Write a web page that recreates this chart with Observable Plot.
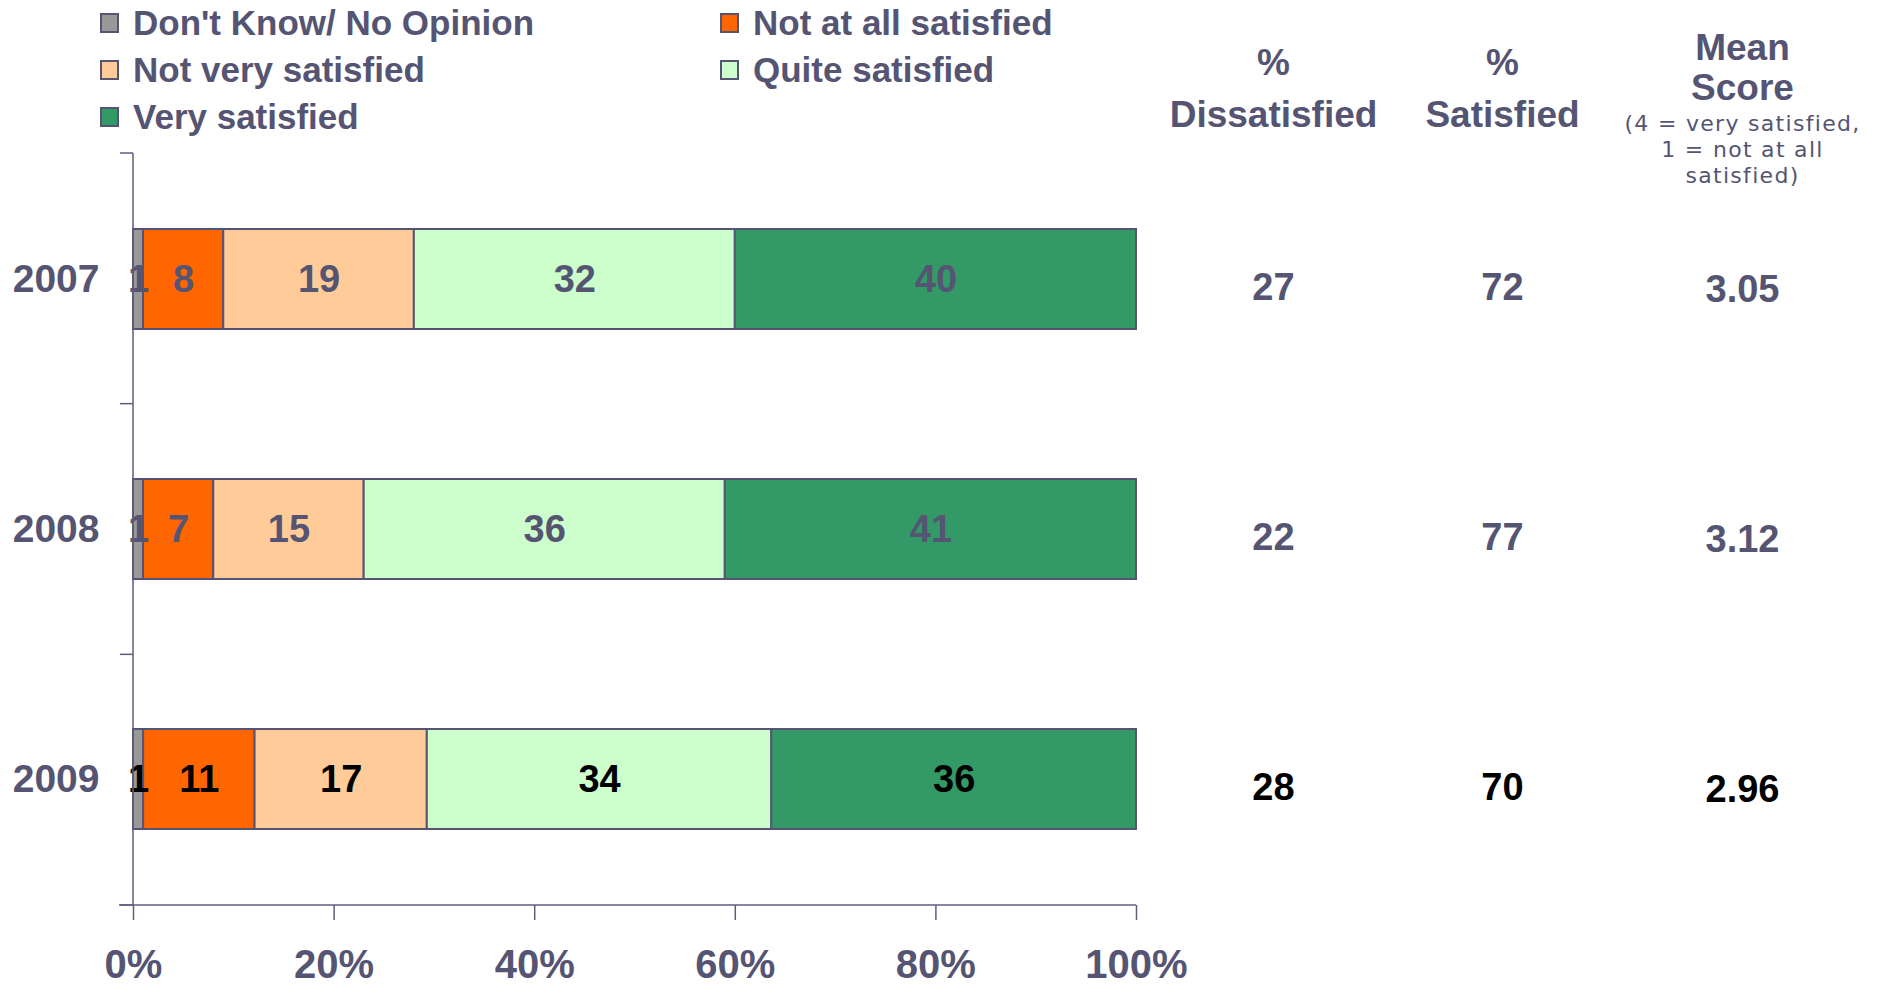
<!DOCTYPE html>
<html><head><meta charset="utf-8">
<script src="https://cdn.jsdelivr.net/npm/d3@7"></script>
<script src="https://cdn.jsdelivr.net/npm/@observablehq/plot@0.6"></script>
<style>
body{margin:0;background:#fff;font-family:"Liberation Sans",Arial,sans-serif;}
#wrap{position:relative;width:1892px;height:987px;}
#legend{position:absolute;left:100px;top:-1px;display:grid;grid-template-columns:620px auto;}
.item{display:flex;align-items:center;height:47px;font-size:35px;font-weight:bold;color:#555573;white-space:nowrap;}
.sw{width:15px;height:16px;border:2px solid #555573;margin-right:14px;}
.note text{letter-spacing:1.3px;}
</style></head>
<body><div id="wrap"><div id="legend"></div><div id="chart"></div></div>
<script>
const years = ["2007", "2008", "2009"];
const categories = ["Don't Know/ No Opinion", "Not at all satisfied", "Not very satisfied", "Quite satisfied", "Very satisfied"];
const colors = ["#999999", "#FF6600", "#FFCC99", "#CCFFCC", "#339966"];
const dontKnow = [1, 1, 1];
const notAtAll = [8, 7, 11];
const notVery = [19, 15, 17];
const quite = [32, 36, 34];
const very = [40, 41, 36];
const pctDissatisfied = [27, 22, 28];
const pctSatisfied = [72, 77, 70];
const meanScore = [3.05, 3.12, 2.96];
const xTicks = [0, 0.2, 0.4, 0.6, 0.8, 1];
const headerDissatisfied = ["%", "Dissatisfied"];
const headerSatisfied = ["%", "Satisfied"];
const headerMean = ["Mean", "Score"];
const headerMeanNote = ["(4 = very satisfied,\n1 = not at all\nsatisfied)"];

const TEXT = "#555573";
const series = [dontKnow, notAtAll, notVery, quite, very];
const data = [];
years.forEach((y, i) => categories.forEach((c, j) => data.push({year: y, category: c, value: series[j][i]})));
const side = years.map((y, i) => ({year: y, dis: pctDissatisfied[i], sat: pctSatisfied[i], mean: meanScore[i]}));
const labelFill = d => d.year === "2009" ? "black" : TEXT;

// legend
const lg = document.getElementById("legend");
categories.forEach((c, j) => {
  const it = document.createElement("div");
  it.className = "item";
  it.innerHTML = `<span class="sw" style="background:${colors[j]}"></span>${c}`;
  lg.appendChild(it);
});

const stackOpts = {x: "value", y: "year", z: "category", offset: "normalize", order: categories};

const axesMark = (index, scales, values, dims) => {
  const g = d3.create("svg:g").attr("stroke", "#5e5e7c").attr("stroke-width", 1.5);
  const x0 = scales.x(0);
  const top = dims.marginTop, bottom = dims.height - dims.marginBottom;
  const step = (bottom - top) / years.length;
  g.append("line").attr("x1", x0).attr("x2", x0).attr("y1", top).attr("y2", bottom);
  g.append("line").attr("x1", x0 - 14).attr("x2", scales.x(1)).attr("y1", bottom).attr("y2", bottom);
  for (let i = 0; i <= years.length; i++) {
    const yy = top + i * step;
    g.append("line").attr("x1", x0 - 13).attr("x2", x0).attr("y1", yy).attr("y2", yy);
  }
  return g.node();
};

const headerStyle = {fontSize: 37, fontWeight: "bold", fill: TEXT, frameAnchor: "top-right", lineAnchor: "middle", textAnchor: "middle"};

const chart = Plot.plot({
  width: 1892,
  height: 987,
  marginTop: 153,
  marginBottom: 82,
  marginLeft: 133,
  marginRight: 756,
  style: {fontFamily: '"Liberation Sans", Arial, sans-serif', background: "white", color: TEXT},
  x: {domain: [0, 1], label: null},
  y: {domain: years, paddingInner: 0.6, paddingOuter: 0.3, label: null},
  color: {domain: categories, range: colors},
  marks: [
    Plot.barX(data, Plot.stackX({...stackOpts, fill: "category", stroke: "#555573", strokeWidth: 2})),
    Plot.text(data, Plot.stackX({...stackOpts, text: "value", fill: labelFill, fontSize: 38, fontWeight: "bold"})),
    axesMark,
    Plot.axisX({ticks: xTicks, tickFormat: d3.format(".0%"), tickSize: 15, tickPadding: 29, fontSize: 40, fontWeight: "bold", fill: TEXT, stroke: "#5e5e7c", strokeWidth: 1.5, label: null}),
    Plot.axisY({tickSize: 0, tickPadding: 34, fontSize: 39, fontWeight: "bold", fill: TEXT, label: null}),
    Plot.text(side, {y: "year", text: "dis", frameAnchor: "right", dx: 137, dy: 8, textAnchor: "middle", fontSize: 38, fontWeight: "bold", fill: labelFill}),
    Plot.text(side, {y: "year", text: "sat", frameAnchor: "right", dx: 366, dy: 8, textAnchor: "middle", fontSize: 38, fontWeight: "bold", fill: labelFill}),
    Plot.text(side, {y: "year", text: d => d.mean.toFixed(2), frameAnchor: "right", dx: 606, dy: 10, textAnchor: "middle", fontSize: 38, fontWeight: "bold", fill: labelFill}),
    Plot.text([headerDissatisfied[0]], {...headerStyle, text: d => d, dx: 137, dy: -90}),
    Plot.text([headerDissatisfied[1]], {...headerStyle, text: d => d, dx: 137, dy: -38}),
    Plot.text([headerSatisfied[0]], {...headerStyle, text: d => d, dx: 366, dy: -90}),
    Plot.text([headerSatisfied[1]], {...headerStyle, text: d => d, dx: 366, dy: -38}),
    Plot.text([headerMean[0]], {...headerStyle, text: d => d, dx: 606, dy: -105}),
    Plot.text([headerMean[1]], {...headerStyle, text: d => d, dx: 606, dy: -65}),
    Plot.text(headerMeanNote, {text: d => d, className: "note", frameAnchor: "top-right", dx: 606, dy: -5, textAnchor: "middle", lineAnchor: "middle", lineHeight: 1.2, fontSize: 22, fontFamily: '"DejaVu Sans", sans-serif', fill: TEXT})
  ]
});
document.getElementById("chart").appendChild(chart);
</script>
</body></html>
